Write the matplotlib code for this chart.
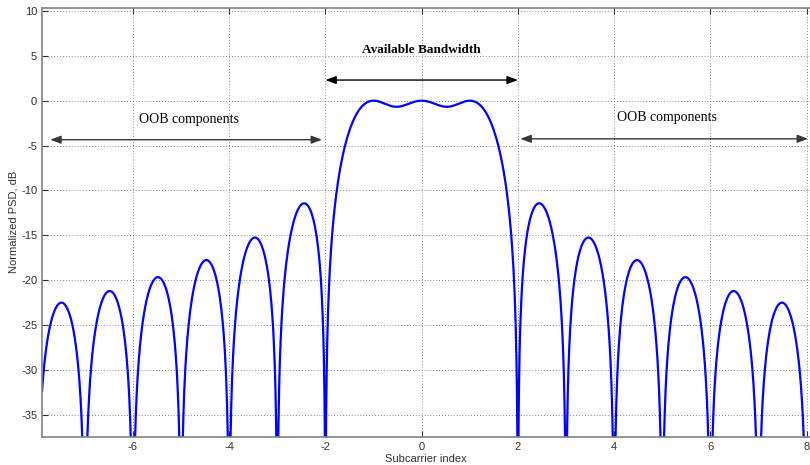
import numpy as np
import matplotlib.pyplot as plt

plt.rcParams['axes.unicode_minus'] = False
plt.rcParams['font.family'] = ['Liberation Sans', 'DejaVu Sans']

# Subcarrier positions (normalized frequency) and plot ranges
subcarriers = [-1, 0, 1]
x_ticks = [-6, -4, -2, 0, 2, 4, 6, 8]
y_ticks = [-35, -30, -25, -20, -15, -10, -5, 0, 5, 10]
band_edges = [-2, 2]

# Power spectral density: sum of sinc^2 of each subcarrier
f = np.linspace(-7.95, 8.05, 16001)
psd = np.zeros_like(f)
for k in subcarriers:
    psd += np.sinc(f - k) ** 2
psd_db = 10 * np.log10(np.maximum(psd / psd.max(), 1e-12))

fig = plt.figure(figsize=(8.1, 4.65), dpi=100)
ax = fig.add_axes([42 / 810, 28.3 / 465, 768 / 810, 428.7 / 465])

ax.plot(f, psd_db, color='#0000ff', lw=1.6)

ax.set_xlim(-7.89, 8.07)
ax.set_ylim(-37.45, 10.33)
ax.set_xticks(x_ticks)
ax.set_yticks(y_ticks)
ax.grid(True, linestyle=(0, (1, 2.5)), color='#606060', lw=0.6)

ax.tick_params(direction='in', length=4, top=True, right=False,
               labelsize=8, colors='#303030')
for side in ['left', 'bottom', 'top']:
    ax.spines[side].set_color('#808080')
    ax.spines[side].set_linewidth(1.2)
ax.spines['right'].set_visible(False)

ax.set_xlabel('Subcarrier index', fontsize=8, color='#303030', labelpad=2)
ax.set_ylabel('Normalized PSD, dB', fontsize=8, color='#303030', labelpad=2)

serif = 'Liberation Serif'
arrow = dict(arrowstyle='<|-|>,head_length=0.8,head_width=0.3', color='black',
             lw=1.0, mutation_scale=8, shrinkA=0, shrinkB=0)
gray_arrow = dict(arrow, color='#383838')

# Available bandwidth
ax.annotate('', xy=(band_edges[0], 2.3), xytext=(band_edges[1], 2.3),
            arrowprops=arrow)
ax.text(0, 5.65, 'Available Bandwidth', family=serif, fontweight='bold',
        fontsize=9.5, ha='center', va='center')

# Out-of-band components
ax.annotate('', xy=(-7.72, -4.35), xytext=(-2.07, -4.35),
            arrowprops=gray_arrow)
ax.text(-4.84, -2.1, 'OOB components', family=serif, fontsize=10,
        ha='center', va='center')
ax.annotate('', xy=(2.05, -4.25), xytext=(8.03, -4.25),
            arrowprops=gray_arrow)
ax.text(5.1, -1.9, 'OOB components', family=serif, fontsize=10,
        ha='center', va='center')

fig.savefig('out.png', dpi=100)
